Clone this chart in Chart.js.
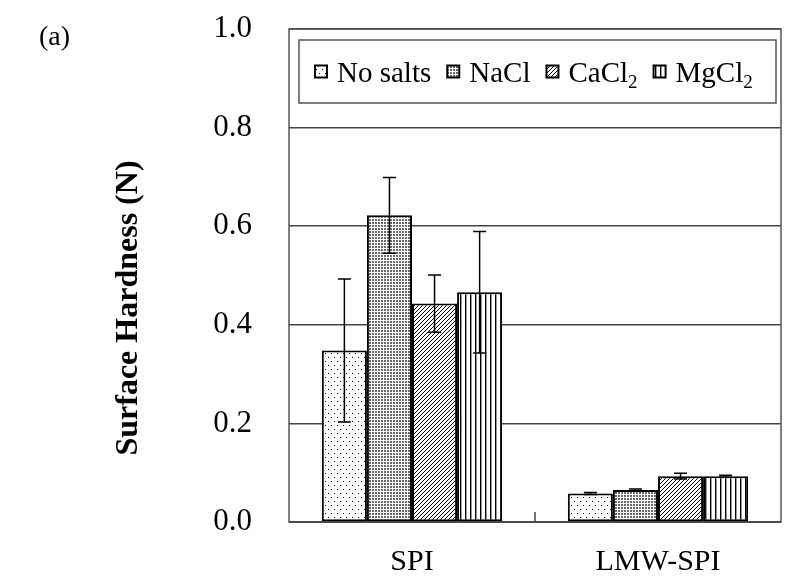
<!DOCTYPE html>
<html><head><meta charset="utf-8">
<script src="https://cdn.jsdelivr.net/npm/chart.js@4.4.1/dist/chart.umd.min.js"></script>
<style>html,body{margin:0;padding:0;background:#fff}canvas{display:block}</style>
</head><body>
<canvas id="c" width="787" height="586"></canvas>
<script>
// ---- data ----
const categories = ['SPI', 'LMW-SPI'];
const seriesLabels = ['No salts', 'NaCl', 'CaCl₂', 'MgCl₂'];
const noSalts = [0.348, 0.058];
const noSaltsErr = [0.145, 0.002];
const naCl = [0.622, 0.065];
const naClErr = [0.077, 0.002];
const caCl2 = [0.443, 0.093];
const caCl2Err = [0.058, 0.006];
const mgCl2 = [0.466, 0.093];
const mgCl2Err = [0.123, 0.002];
const yMin = 0, yMax = 1.0, yStep = 0.2;
const yTitle = 'Surface Hardness (N)';
const panelLabel = '(a)';

const FONT = "'Liberation Serif', 'Times New Roman', serif";

// ---- patterns ----
function tile(w, h, draw) {
  const c = document.createElement('canvas');
  c.width = w; c.height = h;
  const g = c.getContext('2d');
  g.fillStyle = '#fff'; g.fillRect(0, 0, w, h);
  g.fillStyle = '#000';
  draw(g);
  return document.getElementById('c').getContext('2d').createPattern(c, 'repeat');
}
const patSparse = tile(6, 8, g => { g.fillRect(1, 1, 1, 1); g.fillRect(4, 5, 1, 1); });
const patDense = tile(3, 3, g => { g.fillStyle = '#6a6a6a'; g.fillRect(0, 0, 2, 2); });
const patDiag = tile(4, 4, g => { for (let i = 0; i < 4; i++) { g.fillRect(i, 3 - i, 1, 1); } });
const patVert = tile(5, 1, g => { g.fillRect(0, 0, 1, 1); g.fillStyle = '#999'; g.fillRect(1, 0, 1, 1); });

const values = [noSalts, naCl, caCl2, mgCl2];
const errors = [noSaltsErr, naClErr, caCl2Err, mgCl2Err];
const patterns = [patSparse, patDense, patDiag, patVert];

const datasets = seriesLabels.map((lab, i) => ({
  label: lab,
  data: values[i],
  errors: errors[i],
  backgroundColor: patterns[i],
  borderColor: '#000',
  borderWidth: 2,
  borderSkipped: false,
  categoryPercentage: 0.733,
  barPercentage: 1.0
}));

// ---- plugins ----
const framePlugin = {
  id: 'frame',
  beforeDatasetsDraw(chart) {
    const a = chart.chartArea, ctx = chart.ctx;
    ctx.save();
    ctx.strokeStyle = '#555';
    ctx.lineWidth = 1.5;
    ctx.strokeRect(a.left, a.top, a.right - a.left, a.bottom - a.top);
    ctx.restore();
  },
  afterDatasetsDraw(chart) {
    const ctx = chart.ctx, a = chart.chartArea, xs = chart.scales.x;
    ctx.save();
    ctx.strokeStyle = '#444';
    ctx.lineWidth = 1.5;
    ctx.beginPath();
    ctx.moveTo(a.left, a.bottom); ctx.lineTo(a.right, a.bottom);
    const mid = (xs.getPixelForValue(0) + xs.getPixelForValue(1)) / 2;
    ctx.moveTo(mid, a.bottom); ctx.lineTo(mid, a.bottom - 10);
    ctx.stroke();
    ctx.restore();
  }
};

const errorBarPlugin = {
  id: 'errbars',
  afterDatasetsDraw(chart) {
    const ctx = chart.ctx, ys = chart.scales.y;
    ctx.save();
    ctx.strokeStyle = '#000';
    ctx.lineWidth = 1.5;
    chart.data.datasets.forEach((ds, di) => {
      const meta = chart.getDatasetMeta(di);
      meta.data.forEach((bar, j) => {
        const v = ds.data[j], e = ds.errors[j];
        const yt = ys.getPixelForValue(v + e), yb = ys.getPixelForValue(v - e);
        const x = bar.x, cw = 6.5;
        ctx.beginPath();
        ctx.moveTo(x, yt); ctx.lineTo(x, yb);
        ctx.moveTo(x - cw, yt); ctx.lineTo(x + cw, yt);
        ctx.moveTo(x - cw, yb); ctx.lineTo(x + cw, yb);
        ctx.stroke();
      });
    });
    ctx.restore();
  }
};

const legendPlugin = {
  id: 'boxLegend',
  afterDraw(chart) {
    const ctx = chart.ctx, a = chart.chartArea;
    const bx = a.left + 10, by = a.top + 11, bw = a.right - a.left - 15, bh = 63;
    ctx.save();
    ctx.fillStyle = '#fff';
    ctx.fillRect(bx, by, bw, bh);
    ctx.strokeStyle = '#555';
    ctx.lineWidth = 1.5;
    ctx.strokeRect(bx, by, bw, bh);
    const fs = 29, sub = 19;
    ctx.textBaseline = 'alphabetic';
    const cy = by + bh / 2;
    let x = bx + 16;
    chart.data.datasets.forEach(ds => {
      ctx.fillStyle = ds.backgroundColor;
      ctx.fillRect(x, cy - 6, 12, 12);
      ctx.strokeStyle = '#000'; ctx.lineWidth = 2;
      ctx.strokeRect(x, cy - 6, 12, 12);
      x += 12 + 10;
      let lab = ds.label, hasSub = lab.endsWith('₂');
      if (hasSub) lab = lab.slice(0, -1);
      ctx.fillStyle = '#000';
      ctx.font = fs + 'px ' + FONT;
      const base = cy + 10;
      ctx.fillText(lab, x, base);
      x += ctx.measureText(lab).width;
      if (hasSub) {
        ctx.font = sub + 'px ' + FONT;
        ctx.fillText('2', x, base + 6);
        x += ctx.measureText('2').width;
      }
      x += 16;
    });
    ctx.restore();

    ctx.save();
    ctx.fillStyle = '#000';
    ctx.font = '28px ' + FONT;
    ctx.textBaseline = 'alphabetic';
    ctx.fillText(panelLabel, 39, 45);
    ctx.translate(129, 308);
    ctx.rotate(-Math.PI / 2);
    ctx.font = 'bold 32px ' + FONT;
    ctx.textAlign = 'center';
    ctx.textBaseline = 'middle';
    ctx.fillText(yTitle, 0, 0);
    ctx.restore();
  }
};

new Chart(document.getElementById('c'), {
  type: 'bar',
  data: { labels: categories, datasets },
  options: {
    responsive: false,
    animation: false,
    devicePixelRatio: 1,
    layout: { padding: { top: 29, right: 6, bottom: 0, left: 0 } },
    plugins: { legend: { display: false }, tooltip: { enabled: false } },
    scales: {
      x: {
        grid: { display: false },
        border: { display: false },
        ticks: { color: '#000', font: { family: FONT, size: 30 }, padding: 14 },
        afterFit(s) { s.height = 64; s.paddingLeft = 0; s.paddingRight = 0; }
      },
      y: {
        min: yMin, max: yMax,
        grid: { color: '#444', lineWidth: 1.5, drawTicks: false },
        border: { display: false },
        ticks: {
          stepSize: yStep, color: '#000', padding: 37,
          font: { family: FONT, size: 31 },
          callback: v => Number(v).toFixed(1)
        },
        afterFit(s) { s.width = 289; s.paddingTop = 0; s.paddingBottom = 0; }
      }
    }
  },
  plugins: [framePlugin, errorBarPlugin, legendPlugin]
});
</script>
</body></html>
